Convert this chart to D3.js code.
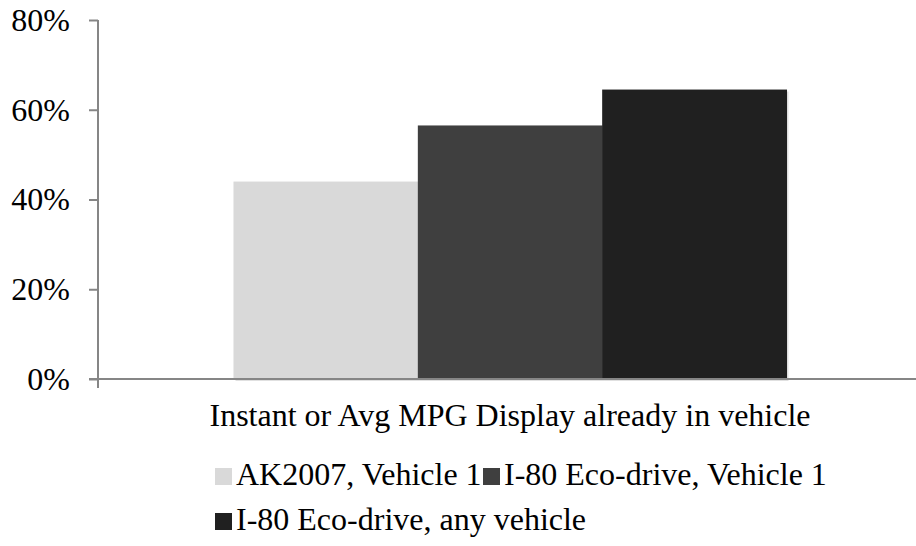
<!DOCTYPE html>
<html>
<head>
<meta charset="utf-8">
<script src="https://d3js.org/d3.v7.min.js"></script>
</head>
<body style="margin:0">
<div id="container" style="font-family:'Liberation Serif'"></div>
<script>
  // DATA
  const categories = ["Instant or Avg MPG Display already in vehicle"];
  const seriesNames = ["AK2007, Vehicle 1", "I-80 Eco-drive, Vehicle 1", "I-80 Eco-drive, any vehicle"];
  const seriesColors = ["#d9d9d9", "#3f3f3f", "#202020"];
  const seriesValues = [0.44, 0.565, 0.645];
  const yTicks = [0, 0.2, 0.4, 0.6, 0.8];

  const W = 916, H = 546;
  const plotLeft = 98, plotRight = 922, plotTop = 20, plotBottom = 379;

  const svg = d3.select("#container").append("svg")
    .attr("width", W).attr("height", H)
    .style("font-family", "'Liberation Serif'");

  // SCALES
  const y = d3.scaleLinear().domain([0, 0.8]).range([plotBottom, plotTop]);
  const x0 = d3.scaleBand().domain(categories).range([plotLeft, plotRight])
    .paddingInner(0).paddingOuter(0.245);
  const x1 = d3.scaleBand().domain(seriesNames).range([0, x0.bandwidth()]);
  const bars = seriesNames.map((n, i) => ({ name: n, value: seriesValues[i], color: seriesColors[i] }));

  // TEXT FIRST: category label and legend
  svg.selectAll("text.cat").data(categories).enter().append("text")
    .attr("class", "cat")
    .attr("x", d => x0(d) + x0.bandwidth() / 2)
    .attr("y", 426)
    .attr("text-anchor", "middle")
    .style("font-family", "'Liberation Serif'")
    .style("font-size", "32px")
    .text(d => d);

  const legendX = [215, 483, 215];
  const legendY = [485, 485, 530];
  svg.selectAll("text.key").data(bars).enter().append("text")
    .attr("class", "key")
    .attr("x", (d, i) => legendX[i] + 21).attr("y", (d, i) => legendY[i])
    .style("font-family", "'Liberation Serif'")
    .style("font-size", "32px")
    .text(d => d.name);
  svg.selectAll("rect.key").data(bars).enter().append("rect")
    .attr("class", "key")
    .attr("x", (d, i) => legendX[i]).attr("y", (d, i) => legendY[i] - 17)
    .attr("width", 17).attr("height", 17)
    .attr("fill", d => d.color);

  // BARS (light shadow rect drawn first, then bar)
  svg.append("g").selectAll("rect")
    .data(bars).enter().append("rect")
    .attr("x", d => x0(categories[0]) + x1(d.name) + 2)
    .attr("y", d => y(d.value) + 2)
    .attr("width", x1.bandwidth())
    .attr("height", d => y(0) - y(d.value))
    .attr("fill", "#000").attr("opacity", 0.12);
  svg.append("g").selectAll("rect")
    .data(bars).enter().append("rect")
    .attr("x", d => x0(categories[0]) + x1(d.name))
    .attr("y", d => y(d.value))
    .attr("width", x1.bandwidth() + 0.5)
    .attr("height", d => y(0) - y(d.value))
    .attr("fill", d => d.color);

  // AXES
  const yAxis = svg.append("g")
    .attr("transform", "translate(" + plotLeft + ",0)")
    .call(d3.axisLeft(y).tickValues(yTicks).tickFormat(d3.format(".0%")).tickSize(9).tickPadding(19));
  yAxis.attr("font-family", null).attr("font-size", null);
  yAxis.select(".domain").attr("stroke", "#868686").attr("stroke-width", 2)
    .attr("d", "M0," + plotTop + "V" + plotBottom);
  yAxis.selectAll(".tick line").attr("stroke", "#868686").attr("stroke-width", 2);
  yAxis.selectAll(".tick text")
    .style("font-family", "'Liberation Serif'").style("font-size", "32px").attr("fill", "#000");

  svg.append("line").attr("x1", plotLeft - 9).attr("x2", W)
    .attr("y1", y(0)).attr("y2", y(0))
    .attr("stroke", "#868686").attr("stroke-width", 2);
  svg.append("line").attr("x1", plotLeft).attr("x2", plotLeft)
    .attr("y1", y(0)).attr("y2", y(0) + 9)
    .attr("stroke", "#868686").attr("stroke-width", 2);
</script>
</body>
</html>
